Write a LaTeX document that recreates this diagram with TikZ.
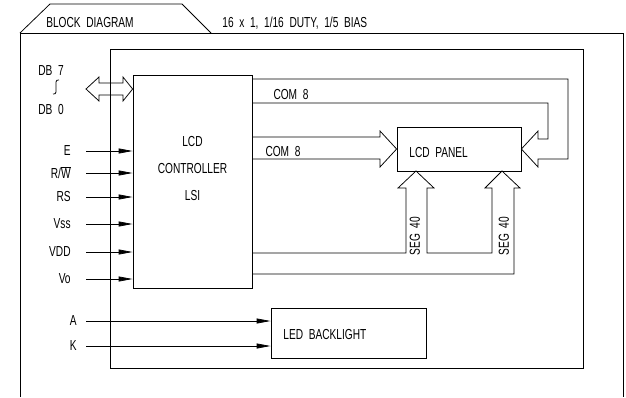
\documentclass[tikz,border=0pt]{standalone}
\usepackage{fontspec}
\setmainfont[FakeStretch=0.7]{Liberation Sans}
\usetikzlibrary{arrows.meta, positioning}

\begin{document}
\begin{tikzpicture}[x=1pt, y=-1pt, line width=0.75pt,
    >={Triangle[length=14pt,width=5pt]},
    every node/.style={font=\fontsize{14.5}{17}\selectfont, inner sep=0pt},
    blk/.style={draw, minimum width=#1},
    sig/.style={anchor=east}]
  \useasboundingbox (0,0) rectangle (626,397);

  % Frame and title tab
  \draw (20,397) -- (20,33) -- (623,33) -- (623,397);
  \draw (20,33) -- (50,4) -- (182,4) -- (211,33);
  \node (title) at (90,23) {BLOCK\ \ DIAGRAM};
  \node[anchor=west] (duty) at (222,23) {16\ \ x\ \ 1,\ \ 1/16\ \ DUTY,\ \ 1/5\ \ BIAS};

  % Module outline
  \draw (110,49) rectangle (583,368);

  % Blocks
  \node[blk=119pt, minimum height=213pt] (ctrl) at (192.5,181.5) {};
  \node[align=center] (ctrlTxt) at (192.5,169) {LCD\\[10pt]CONTROLLER\\[10pt]LSI};
  \node[blk=124pt, minimum height=44pt] (panel) at (459,149) {};
  \node[anchor=west] (panelTxt) at (409,153) {LCD\ \ PANEL};
  \node[blk=155pt, minimum height=50pt] (backlight) at (348.5,333) {};
  \node[anchor=west] (backlightTxt) at (283,335) {LED\ \ BACKLIGHT};

  % Data bus
  \node (db7) at (51,71) {DB\ \ 7};
  \draw (59,80) .. controls (55,79) and (56,84) .. (56,87) .. controls (56,90) and (57,95) .. (53,94);
  \node (db0) at (51,110) {DB\ \ 0};
  \draw (86,89) -- (99,77) -- (99,83) -- (123,83) -- (123,77) -- (ctrl.west |- 0,89)
        -- (123,101) -- (123,95) -- (99,95) -- (99,101) -- cycle;

  % Control and power inputs
  \foreach \id/\txt/\y in {e/E/151, rw/{R/$\overline{\mbox{W}}$}/173, rs/RS/197,
                           vss/Vss/224, vdd/VDD/252, vo/Vo/279} {
    \node[sig] (\id) at (71,\y) {\txt};
    \coordinate (\id In) at (86,\y);
    \draw[->] (\id In) -- (\id In -| ctrl.west);
  }

  % Backlight inputs
  \foreach \id/\y in {A/321, K/346} {
    \node[sig] (\id) at (77,\y) {\id};
    \coordinate (\id In) at (86,\y);
    \draw[->] (\id In) -- (\id In -| backlight.west);
  }

  % COM 8 (right side)
  \draw (252,79) -- (568,79) -- (568,159) -- (538,159) -- (538,167)
        -- (panel.east) -- (538,131) -- (538,139) -- (548,139) -- (548,103) -- (252,103);
  \node (comTop) at (291,95) {COM\ \ 8};

  % COM 8 (left side)
  \draw (252,137) -- (380,137) -- (380,131) -- (panel.west) -- (380,167) -- (380,159) -- (252,159);
  \node (comLow) at (283,152) {COM\ \ 8};

  % SEG 40 x 2
  \draw (252,253) -- (406,253) -- (406,188) -- (398,188) -- (416,171) -- (434,188)
        -- (427,188) -- (427,253) -- (492,253) -- (492,188) -- (485,188) -- (502,171)
        -- (520,188) -- (514,188) -- (514,274) -- (252,274);
  \node[rotate=90] (segA) at (415,236) {SEG\ \ 40};
  \node[rotate=90] (segB) at (504,236) {SEG\ \ 40};
\end{tikzpicture}
\end{document}
